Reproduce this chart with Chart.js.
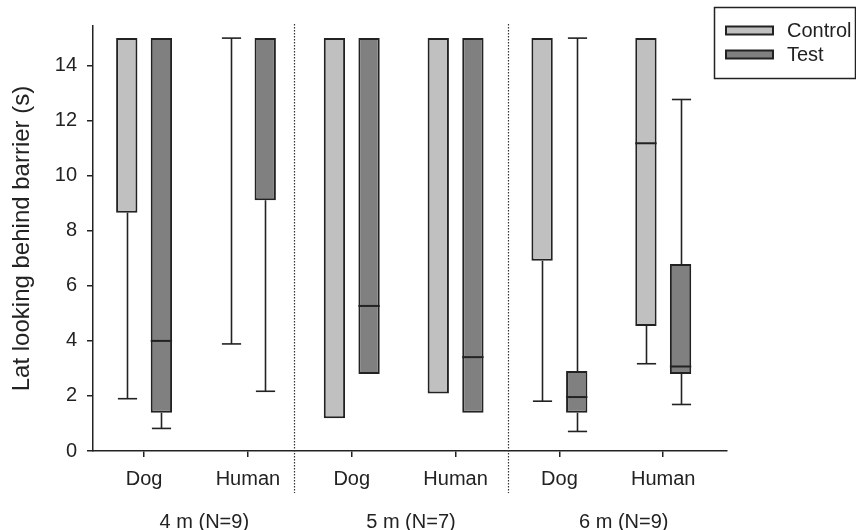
<!DOCTYPE html>
<html><head><meta charset="utf-8">
<script src="https://cdn.jsdelivr.net/npm/chart.js@4/dist/chart.umd.min.js"></script>
<style>html,body{margin:0;padding:0;background:#fff;}canvas{display:block;}</style>
</head><body>
<canvas id="c" width="856" height="530"></canvas>
<script>
// ---- data ----
const categories = ['Dog', 'Human', 'Dog', 'Human', 'Dog', 'Human'];
const groupLabels = ['4 m (N=9)', '5 m (N=7)', '6 m (N=9)'];
const yTickValues = [0, 2, 4, 6, 8, 10, 12, 14];
const seriesNames = ['Control', 'Test'];

const controlMin    = [1.90, 3.89, 1.19, 2.09, 1.81, 3.17];
const controlQ1     = [8.66, 15.0, 1.19, 2.09, 6.91, 4.54];
const controlMedian = [15.0, 15.0, 15.0, 15.0, 15.0, 11.18];
const controlQ3     = [15.0, 15.0, 15.0, 15.0, 15.0, 15.0];
const controlMax    = [15.0, 15.0, 15.0, 15.0, 15.0, 15.0];

const testMin    = [0.82, 2.17, 2.80, 1.39, 0.71, 1.69];
const testQ1     = [1.39, 9.11, 2.80, 1.39, 1.39, 2.80];
const testMedian = [4.00, 15.0, 5.27, 3.41, 1.96, 3.07];
const testQ3     = [15.0, 15.0, 15.0, 15.0, 2.91, 6.79];
const testMax    = [15.0, 15.0, 15.0, 15.0, 15.0, 12.77];

// ---- styling / layout ----
const INK = '#222';
const FILLS = ['#c0c0c0', '#808080'];
const FONT = 'Liberation Sans, Arial, sans-serif';
const X_MIN = 0.508, X_MAX = 6.614, Y_MAX = 15.44;
const groupTickPositions = [1.58, 3.57, 5.62];
const separatorPositions = [2.446, 4.506];

const boxStats = [
  {min: controlMin, q1: controlQ1, med: controlMedian, q3: controlQ3, max: controlMax},
  {min: testMin, q1: testQ1, med: testMedian, q3: testQ3, max: testMax}
];

function boxData(q1, q3) {
  return categories.map((c, i) => ({x: i + 1, y: [q1[i], q3[i]]}));
}

Chart.defaults.font.family = FONT;
Chart.defaults.font.size = 20;
Chart.defaults.color = INK;

function line(ctx, x1, y1, x2, y2) {
  ctx.beginPath(); ctx.moveTo(x1, y1); ctx.lineTo(x2, y2); ctx.stroke();
}

const boxPlugin = {
  id: 'boxWhiskers',
  afterDatasetsDraw(chart) {
    const ctx = chart.ctx, ys = chart.scales.y;
    chart.data.datasets.forEach((ds, di) => {
      const st = boxStats[di];
      chart.getDatasetMeta(di).data.forEach((bar, i) => {
        const x = Math.round(bar.x) + 0.5, w = bar.width, cap = w * 0.9;
        const flat = st.q1[i] === st.q3[i];
        const pMin = ys.getPixelForValue(st.min[i]);
        const pQ1 = ys.getPixelForValue(st.q1[i]);
        const pMed = ys.getPixelForValue(st.med[i]);
        const pQ3 = ys.getPixelForValue(st.q3[i]);
        const pMax = ys.getPixelForValue(st.max[i]);
        ctx.save();
        ctx.strokeStyle = INK;
        ctx.lineWidth = 1.6;
        if (st.max[i] > st.q3[i] || flat) {
          line(ctx, x, pQ3, x, pMax);
          line(ctx, x - cap / 2, pMax, x + cap / 2, pMax);
        }
        if (st.min[i] < st.q1[i]) {
          line(ctx, x, pQ1, x, pMin);
          line(ctx, x - cap / 2, pMin, x + cap / 2, pMin);
        }
        if (!flat && st.med[i] > st.q1[i] && st.med[i] < st.q3[i]) {
          ctx.lineWidth = 2;
          line(ctx, bar.x - w / 2, pMed, bar.x + w / 2, pMed);
        }
        ctx.restore();
      });
    });
  },
  afterDraw(chart) {
    const ctx = chart.ctx, xs = chart.scales.x, area = chart.chartArea;
    ctx.save();
    // group separators
    ctx.strokeStyle = '#333';
    ctx.lineWidth = 1.2;
    ctx.setLineDash([1.5, 1.5]);
    separatorPositions.forEach(v => {
      const px = Math.round(xs.getPixelForValue(v)) + 0.5;
      line(ctx, px, area.top - 2, px, 493);
    });
    ctx.setLineDash([]);
    // legend
    ctx.lineWidth = 1.5;
    ctx.strokeStyle = INK;
    ctx.strokeRect(714.5, 7.5, 141, 71);
    ctx.font = '20px ' + FONT;
    ctx.textBaseline = 'middle';
    ctx.textAlign = 'left';
    const rows = [30.5, 54.5];
    chart.data.datasets.forEach((ds, di) => {
      const yc = rows[di];
      ctx.fillStyle = ds.backgroundColor;
      ctx.fillRect(726, yc - 4, 47, 8);
      ctx.lineWidth = 2;
      ctx.strokeStyle = INK;
      ctx.strokeRect(726, yc - 4, 47, 8);
      ctx.fillStyle = INK;
      ctx.fillText(ds.label, 787, yc + 1);
    });
    ctx.restore();
  }
};

new Chart(document.getElementById('c'), {
  type: 'bar',
  data: {
    datasets: seriesNames.map((name, di) => ({
      label: name,
      data: boxData(boxStats[di].q1, boxStats[di].q3),
      backgroundColor: FILLS[di],
      borderColor: INK,
      borderWidth: 2,
      borderSkipped: false,
      categoryPercentage: 0.667,
      barPercentage: 0.616
    }))
  },
  options: {
    responsive: false,
    animation: false,
    devicePixelRatio: 1,
    layout: {padding: {left: 0, right: 129, top: 26, bottom: 0}},
    plugins: {legend: {display: false}, tooltip: {enabled: false}},
    scales: {
      x: {
        type: 'linear', position: 'bottom', weight: 0,
        min: X_MIN, max: X_MAX, offset: false,
        afterBuildTicks: s => { s.ticks = categories.map((c, i) => ({value: i + 1})); },
        afterFit: s => { s.height = 45; },
        grid: {display: true, offset: false, drawOnChartArea: false, drawTicks: true, tickLength: 6, color: INK, lineWidth: 1.5},
        border: {display: true, color: INK, width: 1.5},
        ticks: {autoSkip: false, maxRotation: 0, padding: 10, callback: (v, i) => categories[i]}
      },
      x2: {
        type: 'linear', position: 'bottom', weight: 1,
        min: X_MIN, max: X_MAX, offset: false,
        afterBuildTicks: s => { s.ticks = groupTickPositions.map(v => ({value: v})); },
        afterFit: s => { s.height = 34; },
        grid: {display: false, drawTicks: false},
        border: {display: false},
        ticks: {autoSkip: false, maxRotation: 0, padding: 14, callback: (v, i) => groupLabels[i]}
      },
      y: {
        type: 'linear', min: 0, max: Y_MAX,
        afterBuildTicks: s => { s.ticks = yTickValues.map(v => ({value: v})); },
        afterFit: s => { s.width = 93; },
        grid: {display: true, drawOnChartArea: false, drawTicks: true, tickLength: 6, color: INK, lineWidth: 1.5},
        border: {display: true, color: INK, width: 1.5},
        ticks: {padding: 10},
        title: {display: true, text: 'Lat looking behind barrier (s)', font: {size: 24}, padding: {top: 8}}
      }
    }
  },
  plugins: [boxPlugin]
});
</script>
</body></html>
